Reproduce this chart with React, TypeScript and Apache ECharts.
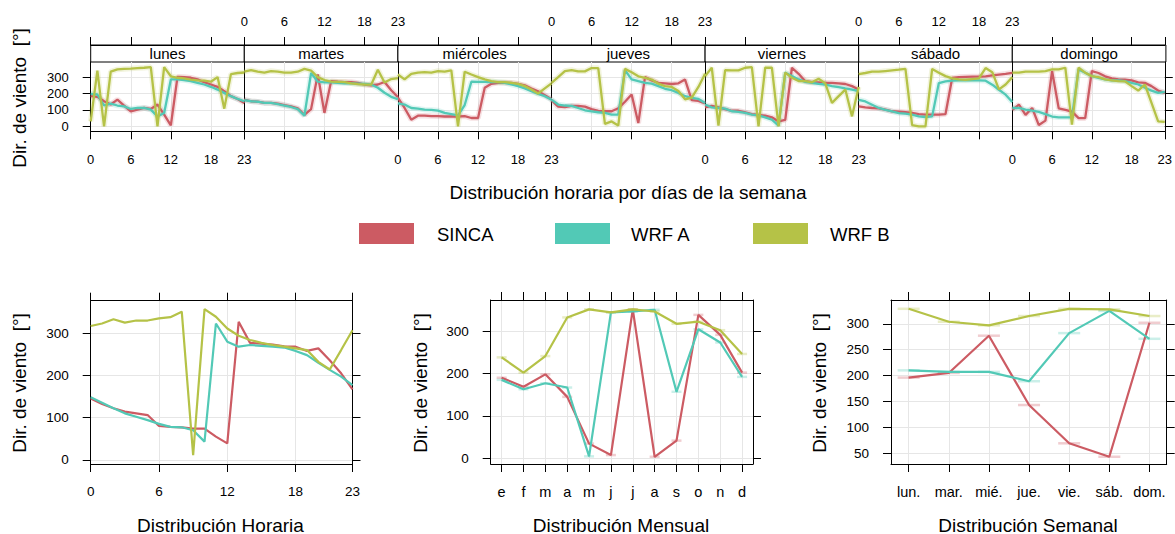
import React, { useEffect, useRef } from "react";
import * as echarts from "echarts";

const FONT = '"Liberation Sans", Arial, Helvetica, sans-serif';
const GRID_COLOR = "#E6E6E6";

const SERIES_NAMES = ["SINCA", "WRF A", "WRF B"];
const COLORS = ["#CC5B63", "#52C9B6", "#B5C247"];

const HOURS = [0, 1, 2, 3, 4, 5, 6, 7, 8, 9, 10, 11, 12, 13, 14, 15, 16, 17, 18, 19, 20, 21, 22, 23];
const HOUR_TICKS = [0, 6, 12, 18, 23];
const DAY_NAMES = ["lunes", "martes", "miércoles", "jueves", "viernes", "sábado", "domingo"];
const MONTHS = ["e", "f", "m", "a", "m", "j", "j", "a", "s", "o", "n", "d"];
const WEEKDAYS = ["lun.", "mar.", "mié.", "jue.", "vie.", "sáb.", "dom."];

// Hour-by-day values (lunes .. domingo), each 24 hours
const SINCA_DAYS = [
  [184, 180, 153, 133, 163, 127, 92, 102, 112, 106, 133, 71, 6, 302, 300, 296, 286, 269, 255, 241, 214, 184, 167, 143],
  [163, 153, 150, 143, 143, 139, 130, 122, 110, 70, 105, 316, 82, 275, 272, 270, 270, 265, 255, 250, 255, 270, 220, 178],
  [175, 112, 41, 65, 65, 63, 62, 60, 60, 60, 62, 51, 51, 235, 259, 265, 265, 265, 259, 250, 231, 214, 190, 165],
  [160, 120, 118, 125, 125, 120, 105, 95, 92, 92, 110, 150, 194, 20, 300, 280, 265, 262, 258, 262, 285, 160, 155, 140],
  [115, 125, 115, 105, 95, 95, 85, 75, 70, 65, 55, 30, 40, 357, 320, 275, 270, 268, 265, 265, 262, 258, 245, 225],
  [122, 116, 112, 110, 102, 92, 90, 86, 82, 75, 71, 71, 71, 75, 295, 300, 302, 303, 303, 305, 310, 315, 320, 326],
  [100, 132, 70, 112, 8, 35, 337, 110, 100, 90, 50, 50, 337, 325, 305, 292, 286, 284, 280, 268, 265, 245, 218, 204],
];
const WRFA_DAYS = [
  [198, 194, 127, 139, 127, 122, 106, 112, 112, 102, 61, 82, 286, 286, 282, 276, 265, 255, 241, 224, 204, 184, 167, 153],
  [160, 153, 150, 143, 143, 135, 127, 118, 105, 65, 325, 272, 268, 268, 265, 262, 262, 260, 258, 255, 235, 205, 180, 165],
  [140, 133, 112, 108, 102, 100, 96, 82, 75, 67, 130, 272, 271, 271, 270, 269, 265, 255, 245, 231, 214, 198, 184, 163],
  [163, 133, 127, 125, 112, 98, 92, 86, 82, 71, 71, 343, 286, 275, 265, 260, 245, 229, 220, 204, 184, 173, 167, 143],
  [133, 116, 112, 108, 92, 88, 82, 71, 67, 55, 41, 5, 327, 306, 286, 271, 265, 259, 255, 245, 239, 231, 224, 214],
  [162, 152, 132, 112, 101, 91, 81, 77, 71, 61, 57, 61, 264, 274, 278, 280, 280, 280, 280, 278, 254, 223, 193, 148],
  [112, 112, 102, 96, 88, 75, 60, 55, 55, 55, 347, 327, 306, 296, 286, 280, 280, 276, 265, 255, 235, 218, 204, 210],
];
const WRFB_DAYS = [
  [30, 340, 0, 333, 347, 350, 352, 355, 357, 361, 0, 361, 305, 296, 292, 285, 280, 278, 272, 300, 108, 318, 325, 328],
  [333, 343, 333, 327, 337, 333, 327, 327, 333, 350, 340, 300, 282, 272, 271, 270, 262, 257, 255, 254, 345, 267, 288, 294],
  [316, 286, 320, 327, 330, 327, 337, 333, 341, 0, 333, 316, 300, 286, 276, 269, 269, 265, 259, 245, 224, 200, 231, 262],
  [265, 300, 337, 343, 335, 335, 355, 355, 15, 30, 5, 350, 330, 305, 295, 285, 260, 245, 240, 215, 165, 175, 240, 320],
  [306, 357, 5, 343, 341, 341, 357, 361, 0, 357, 357, 0, 327, 296, 276, 276, 268, 290, 262, 143, 184, 224, 61, 240],
  [318, 325, 333, 333, 337, 341, 345, 350, 8, 0, 0, 350, 327, 306, 292, 286, 284, 288, 292, 355, 330, 225, 255, 300],
  [327, 327, 333, 333, 333, 337, 347, 347, 357, 10, 357, 327, 306, 300, 286, 280, 276, 274, 245, 218, 255, 143, 31, 27],
];

// Hourly distribution
const SINCA_HOUR = [145, 132, 122, 114, 110, 106, 80, 78, 77, 74, 74, 55, 39, 327, 277, 275, 273, 269, 268, 258, 264, 236, 205, 167];
const WRFA_HOUR = [148, 135, 122, 110, 102, 94, 85, 78, 77, 70, 43, 323, 280, 268, 272, 270, 268, 266, 258, 248, 230, 213, 197, 177];
const WRFB_HOUR = [317, 323, 333, 325, 330, 330, 335, 338, 351, 11, 357, 339, 311, 294, 284, 277, 272, 268, 264, 260, 232, 214, 260, 307];

// Monthly distribution
const SINCA_MONTH = [190, 169, 198, 145, 35, 8, 351, 4, 42, 338, 291, 202];
const WRFA_MONTH = [185, 163, 177, 167, 5, 344, 346, 350, 157, 304, 273, 192];
const WRFB_MONTH = [238, 202, 241, 332, 351, 344, 351, 346, 317, 322, 302, 246];

// Weekly distribution
const SINCA_WEEK = [196, 205, 277, 143, 69, 43, 302];
const WRFA_WEEK = [210, 207, 207, 189, 282, 325, 271];
const WRFB_WEEK = [329, 304, 297, 315, 329, 328, 315];

const TOP_Y_TICKS = [0, 100, 200, 300];
const WEEK_Y_TICKS = [50, 100, 150, 200, 250, 300];

function buildOption() {
  const grids: any[] = [];
  const xAxes: any[] = [];
  const yAxes: any[] = [];
  const series: any[] = [];
  const graphics: any[] = [];

  const xAxis = (
    gridIndex: number,
    position: string,
    min: number,
    max: number,
    ticks: number[],
    showLabel: boolean,
    margin: number,
    split: boolean,
    fontSize: number,
    offset = 0,
    formatter?: (v: number) => string
  ) => {
    xAxes.push({
      type: "value",
      gridIndex,
      position,
      offset,
      min,
      max,
      axisLine: { show: true, onZero: false, lineStyle: { color: "#000", width: 1 } },
      axisTick: { show: true, inside: false, length: 8, customValues: ticks, lineStyle: { color: "#000", width: 1 } },
      axisLabel: {
        show: showLabel,
        customValues: ticks,
        margin,
        fontSize,
        color: "#000",
        fontFamily: FONT,
        showMinLabel: true,
        showMaxLabel: true,
        hideOverlap: false,
        formatter: formatter || ((v: number) => String(v)),
      },
      splitLine: { show: split, lineStyle: { color: GRID_COLOR, width: 1 } },
    });
    return xAxes.length - 1;
  };

  const yAxis = (
    gridIndex: number,
    position: string,
    min: number,
    max: number,
    ticks: number[],
    showTick: boolean,
    showLabel: boolean,
    split: boolean,
    fontSize: number
  ) => {
    yAxes.push({
      type: "value",
      gridIndex,
      position,
      min,
      max,
      axisLine: { show: true, onZero: false, lineStyle: { color: "#000", width: 1 } },
      axisTick: { show: showTick, inside: false, length: 8, customValues: ticks, lineStyle: { color: "#000", width: 1 } },
      axisLabel: {
        show: showLabel,
        customValues: ticks,
        margin: 22,
        fontSize,
        color: "#000",
        fontFamily: FONT,
        showMinLabel: true,
        showMaxLabel: true,
      },
      splitLine: { show: split, lineStyle: { color: GRID_COLOR, width: 1 } },
    });
    return yAxes.length - 1;
  };

  const text = (t: string, x: number, y: number, fontSize: number, align = "center", rotation = 0) => ({
    type: "text",
    x,
    y,
    rotation,
    silent: true,
    style: {
      text: t,
      fontSize,
      fontFamily: FONT,
      fill: "#000",
      textAlign: align,
      align,
      textVerticalAlign: "middle",
      verticalAlign: "middle",
    },
  });

  // ---------- Top: hour by weekday panels ----------
  const TOP_LEFT = 90.7;
  const PANEL_W = 153.6;
  const TOP_Y = 62;
  const TOP_H = 69.3;
  const dayData = [SINCA_DAYS, WRFA_DAYS, WRFB_DAYS];

  for (let k = 0; k < 7; k++) {
    const left = TOP_LEFT + k * PANEL_W;
    grids.push({ left, top: TOP_Y, width: PANEL_W, height: TOP_H, containLabel: false });
    const g = grids.length - 1;
    const xb = xAxis(g, "bottom", 0, 23, HOUR_TICKS, k % 2 === 0, 22, true, 13);
    xAxis(g, "top", 0, 23, HOUR_TICKS, k % 2 === 1, 17, false, 13, 17);
    const yl = yAxis(g, "left", -30, 392, TOP_Y_TICKS, k === 0, k === 0, true, 13);
    yAxis(g, "right", -30, 392, TOP_Y_TICKS, k === 6, false, false, 13);

    for (let s = 0; s < 3; s++) {
      const data = HOURS.map((h, i) => [h, dayData[s][k][i]]);
      series.push({
        type: "line",
        xAxisIndex: xb,
        yAxisIndex: yl,
        data,
        showSymbol: false,
        silent: true,
        z: 2,
        lineStyle: { color: COLORS[s], width: 5.5, opacity: 0.18 },
      });
      series.push({
        type: "line",
        name: SERIES_NAMES[s],
        xAxisIndex: xb,
        yAxisIndex: yl,
        data,
        showSymbol: false,
        z: 3 + s,
        lineStyle: { color: COLORS[s], width: 2.3 },
        itemStyle: { color: COLORS[s] },
      });
    }

    graphics.push({
      type: "rect",
      shape: { x: left, y: 45, width: PANEL_W, height: 17 },
      style: { fill: "#fff", stroke: "#000", lineWidth: 1 },
      silent: true,
    });
    graphics.push(text(DAY_NAMES[k], left + PANEL_W / 2, 53.5, 15));
  }

  // ---------- Bottom panels ----------
  const bottom = [
    {
      left: 90.7, top: 300.7, width: 261.8, height: 163.3,
      xmin: 0, xmax: 23, xticks: HOUR_TICKS, xfmt: (v: number) => String(v), xfont: 13.5,
      ymin: -10, ymax: 377, yticks: TOP_Y_TICKS,
      x: HOURS, vals: [SINCA_HOUR, WRFA_HOUR, WRFB_HOUR], bar: 0,
    },
    {
      left: 490.7, top: 300, width: 262.3, height: 164,
      xmin: -0.5, xmax: 11.5, xticks: [0, 1, 2, 3, 4, 5, 6, 7, 8, 9, 10, 11],
      xfmt: (v: number) => MONTHS[Math.round(v)], xfont: 14.5,
      ymin: -13, ymax: 373, yticks: TOP_Y_TICKS,
      x: [0, 1, 2, 3, 4, 5, 6, 7, 8, 9, 10, 11], vals: [SINCA_MONTH, WRFA_MONTH, WRFB_MONTH], bar: 10,
    },
    {
      left: 891, top: 300, width: 275.7, height: 164,
      xmin: -0.44, xmax: 6.43, xticks: [0, 1, 2, 3, 4, 5, 6],
      xfmt: (v: number) => WEEKDAYS[Math.round(v)], xfont: 14.5,
      ymin: 29, ymax: 346, yticks: WEEK_Y_TICKS,
      x: [0, 1, 2, 3, 4, 5, 6], vals: [SINCA_WEEK, WRFA_WEEK, WRFB_WEEK], bar: 22,
    },
  ];

  bottom.forEach((p) => {
    grids.push({ left: p.left, top: p.top, width: p.width, height: p.height });
    const g = grids.length - 1;
    const xb = xAxis(g, "bottom", p.xmin, p.xmax, p.xticks, true, 20, true, p.xfont, 0, p.xfmt);
    xAxis(g, "top", p.xmin, p.xmax, p.xticks, false, 10, false, 13, 0);
    const yl = yAxis(g, "left", p.ymin, p.ymax, p.yticks, true, true, true, 13.5);
    yAxis(g, "right", p.ymin, p.ymax, p.yticks, true, false, false, 13.5);
    for (let s = 0; s < 3; s++) {
      const data = p.x.map((xv, i) => [xv, p.vals[s][i]]);
      if (p.bar > 0) {
        series.push({
          type: "scatter",
          xAxisIndex: xb,
          yAxisIndex: yl,
          data,
          silent: true,
          symbol: "rect",
          symbolSize: [p.bar, 2.5],
          z: 2,
          itemStyle: { color: COLORS[s], opacity: 0.3 },
        });
      }
      series.push({
        type: "line",
        name: SERIES_NAMES[s],
        xAxisIndex: xb,
        yAxisIndex: yl,
        data,
        showSymbol: false,
        z: 3 + s,
        lineStyle: { color: COLORS[s], width: 2.2 },
        itemStyle: { color: COLORS[s] },
      });
    }
  });

  // ---------- Titles ----------
  graphics.push(text("Dir. de viento  [°]", 19, 98, 19, "center", Math.PI / 2));
  graphics.push(text("Distribución horaria por días de la semana", 628, 192, 19));
  graphics.push(text("Dir. de viento  [°]", 19.5, 383, 19, "center", Math.PI / 2));
  graphics.push(text("Dir. de viento  [°]", 420.5, 383, 19, "center", Math.PI / 2));
  graphics.push(text("Dir. de viento  [°]", 819.5, 383, 19, "center", Math.PI / 2));
  graphics.push(text("Distribución Horaria", 220.5, 525, 19));
  graphics.push(text("Distribución Mensual", 621, 525, 19));
  graphics.push(text("Distribución Semanal", 1028, 525, 19));

  // ---------- Legend ----------
  const legendRectX = [359, 555, 753];
  const legendTextX = [437, 631, 830];
  for (let s = 0; s < 3; s++) {
    graphics.push({
      type: "rect",
      shape: { x: legendRectX[s], y: 223, width: 55, height: 21 },
      style: { fill: COLORS[s] },
      silent: true,
    });
    graphics.push(text(SERIES_NAMES[s], legendTextX[s], 234, 18.5, "left"));
  }

  return {
    animation: false,
    backgroundColor: "#fff",
    textStyle: { fontFamily: FONT },
    grid: grids,
    xAxis: xAxes,
    yAxis: yAxes,
    series,
    graphic: { elements: graphics },
  };
}

export default function App() {
  const ref = useRef<HTMLDivElement>(null);
  useEffect(() => {
    if (!ref.current) return;
    const chart = echarts.init(ref.current, null, { renderer: "svg" });
    chart.setOption(buildOption() as any);
    return () => chart.dispose();
  }, []);
  return (
    <div
      ref={ref}
      style={{ position: "fixed", left: 0, top: 0, width: 1175, height: 534, background: "#fff" }}
    />
  );
}
